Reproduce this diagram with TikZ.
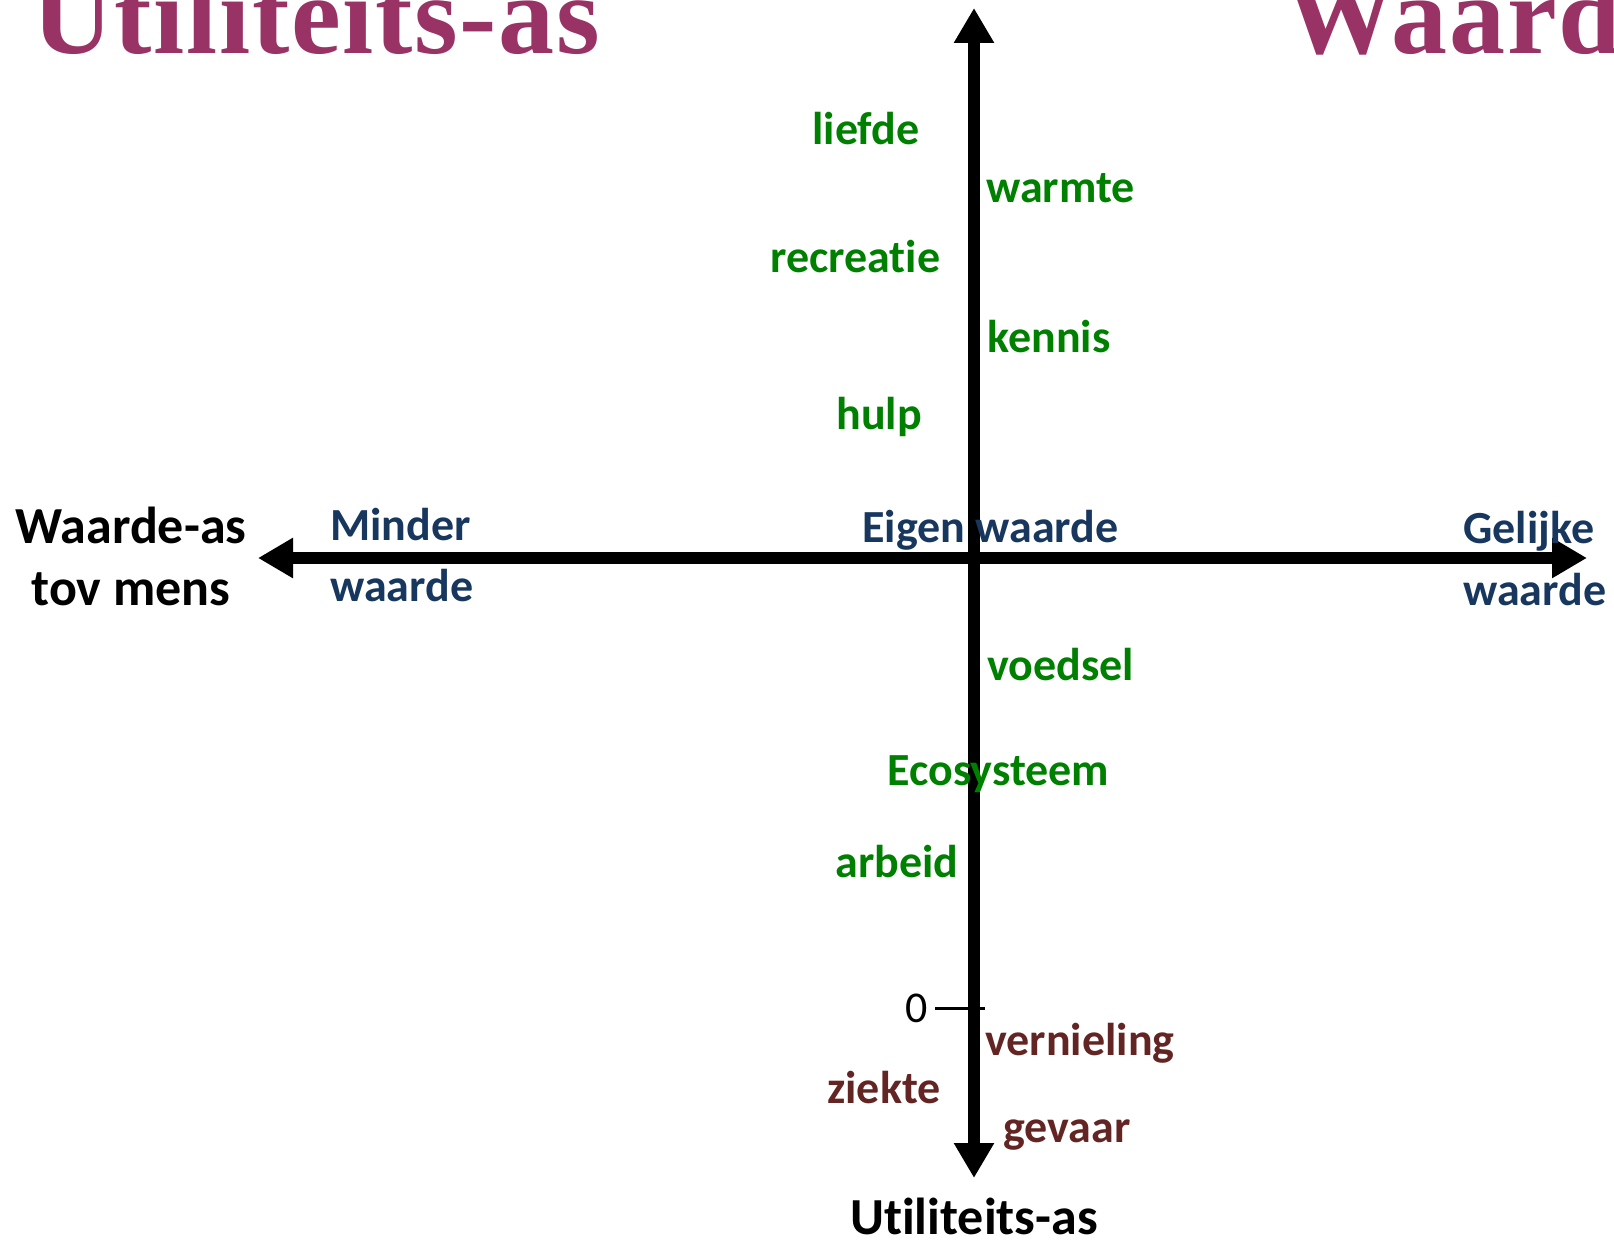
\documentclass[tikz,border=0pt]{standalone}
\usepackage{fontspec}
\setmainfont{Carlito}[Ligatures=NoCommon]
\newfontfamily\titlefont{Liberation Serif}[LetterSpace=1.5]
\usetikzlibrary{arrows.meta}

\definecolor{titlered}{RGB}{153,51,102}
\definecolor{goodgreen}{RGB}{0,128,0}
\definecolor{valnavy}{RGB}{23,55,94}
\definecolor{harmred}{RGB}{99,37,35}

\tikzset{
  axis/.style={line width=6pt, {Triangle[length=17.5pt,width=19pt]}-{Triangle[length=17.5pt,width=19pt]}},
  title/.style={inner sep=0pt, anchor=base west, text=titlered, font=\titlefont\bfseries\fontsize{56}{60}\selectfont},
  axlabel/.style={inner sep=0pt, font=\bfseries\fontsize{26}{31}\selectfont},
  word/.style={inner sep=0pt, anchor=base west, font=\bfseries\fontsize{23}{31}\selectfont},
  use/.style={word, text=goodgreen},
  val/.style={word, text=valnavy, align=left},
  harm/.style={word, text=harmred}
}

\begin{document}
\begin{tikzpicture}[x=0.5pt, y=-0.5pt]
  \useasboundingbox (0,0) rectangle (1614,1241);
  \clip (0,0) rectangle (1614,1241);

  \node[title] (titleuse) at (32  ,54) {Utiliteits-as};
  \node[title] (titleval) at (1284,54) {Waarde-as};

  \coordinate (top)    at (974 ,8);
  \coordinate (bottom) at (974 ,1178);
  \coordinate (left)   at (258 ,558);
  \coordinate (right)  at (1587,558);
  \draw[axis] (left) -- (right);
  \draw[axis] (bottom) -- (top);

  % nulpunt
  \coordinate (zero) at (974,1008);
  \draw[line width=1.5pt] ([xshift=-19.5pt]zero) -- ([xshift=5.5pt]zero)
    node[pos=0, left=3pt, inner sep=0pt, font=\fontsize{22}{26}\selectfont] (nul) {0};

  % multi-line nodes sit on the baseline of their last line
  \node[axlabel, anchor=base]       (ylab) at (974,1234) {Utiliteits-as};
  \node[axlabel, align=center, anchor=base] (xlab) at (131,605) {Waarde-as\\tov mens};

  \node[val] (minder) at (330 ,602) {Minder\\waarde};
  \node[val] (eigen)  at (862 ,543) {Eigen waarde};
  \node[val] (gelijk) at (1463,605) {Gelijke\\waarde};

  \node[use] (liefde)  at (812,145) {liefde};
  \node[use] (warmte)  at (986,203) {warmte};
  \node[use] (recr)    at (770,273) {recreatie};
  \node[use] (kennis)  at (987,353) {kennis};
  \node[use] (hulp)    at (836,430) {hulp};
  \node[use] (voedsel) at (987,680) {voedsel};
  \node[use] (eco)     at (887,785) {Ecosysteem};
  \node[use] (arbeid)  at (835,877) {arbeid};

  \node[harm] (verniel) at (985 ,1055) {vernieling};
  \node[harm] (ziekte)  at (827 ,1103) {ziekte};
  \node[harm] (gevaar)  at (1003,1142) {gevaar};
\end{tikzpicture}
\end{document}
